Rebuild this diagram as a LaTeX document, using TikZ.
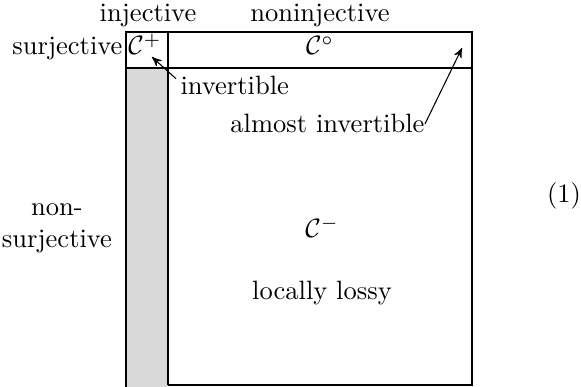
\documentclass[tikz,border=0pt]{standalone}
\usetikzlibrary{arrows}

\begin{document}
\begin{tikzpicture} [
            x=0.377pt, y=-0.377pt,
            frame/.style   = { draw, line width=0.8pt },
            shaded/.style  = { fill=black!15 },
            txt/.style     = { inner sep=0pt, anchor=base },
            pointer/.style = { draw, thin, ->, >=stealth' },
          ]
          \useasboundingbox (0,0) rectangle (581,387);

          % the classes
          \fill [shaded] (126,68) rectangle (168,387);
          \draw [frame] (126,387) -- (126,32) -- (472,32) -- (472,385) -- (168,385);
          \draw [frame] (168,32) -- (168,385);
          \draw [frame] (126,68) -- (472,68);

          \node (inj)    [txt] at (148,22) {injective};
          \node (noninj) [txt] at (320,22) {noninjective};
          \node (surj)   [txt, anchor=base east] at (123,55) {surjective};
          \node (nonsurj) [align=center, inner sep=0pt] at (57,228) {non-\\surjective};

          \node (cplus)  [txt] at (145,55) {$\mathcal{C}^+$};
          \node (cnull)  [txt] at (320,55) {$\mathcal{C}^\circ$};
          \node (cminus) [txt] at (322,238) {$\mathcal{C}^-$};
          \node (lossy)  [txt] at (322,300) {locally lossy};

          \node (inv) [txt, anchor=base west] at (180,95) {invertible};
          \node (ai)  [txt, anchor=base east] at (425,133) {almost invertible};
          \node (eqno) [txt] at (564,203) {(1)};

          \coordinate (invtip) at (152,57);
          \coordinate (aitip) at (462,48);

          \draw [pointer] ([xshift=-1.5pt, yshift=-1pt]inv.north west) -- (invtip);
          \draw [pointer] (ai.east) -- (aitip);
        \end{tikzpicture}
\end{document}
